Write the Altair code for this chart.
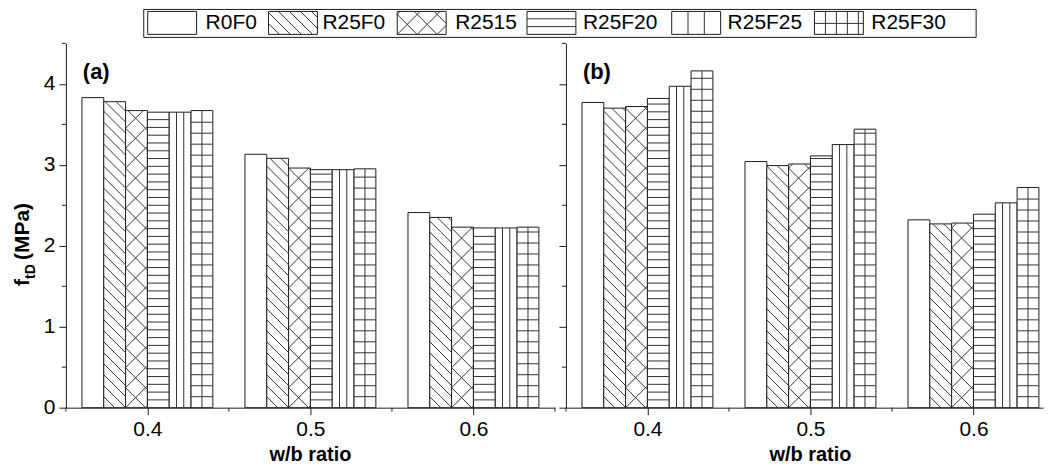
import altair as alt
import pandas as pd

# ---------------- data ----------------
series = ["R0F0", "R25F0", "R2515", "R25F20", "R25F25", "R25F30"]
wb_ratio = [0.4, 0.5, 0.6]

a_R0F0 = [3.83, 3.13, 2.41]
a_R25F0 = [3.78, 3.08, 2.35]
a_R2515 = [3.67, 2.96, 2.23]
a_R25F20 = [3.65, 2.94, 2.22]
a_R25F25 = [3.65, 2.94, 2.22]
a_R25F30 = [3.67, 2.95, 2.23]

b_R0F0 = [3.77, 3.04, 2.32]
b_R25F0 = [3.70, 2.99, 2.27]
b_R2515 = [3.72, 3.01, 2.28]
b_R25F20 = [3.82, 3.11, 2.39]
b_R25F25 = [3.97, 3.25, 2.53]
b_R25F30 = [4.16, 3.44, 2.72]

y_ticks = [0, 1, 2, 3, 4]
y_minor = [0.5, 1.5, 2.5, 3.5, 4.5]
x_ticks = [0.4, 0.5, 0.6]
x_minor = [0.35, 0.45, 0.55, 0.65]

# ---------------- styles / layout ----------------
patterns = ["none", "diag", "cross", "horiz", "vert", "grid"]
FONT = "Liberation Sans"
INK = "#1e1e1e"
HATCH = "#333333"
W_A, W_B, H = 490, 478, 365
X0, XSPAN, YMAX = 0.35, 0.30, 4.5
PXX = W_A / XSPAN
PXY = H / YMAX
GROUP_W = 0.0803
BW = GROUP_W / 6

# legend layout (pixels relative to panel (a) plot origin)
LEG_SW_X = [82, 203, 332, 462, 607, 750]
LEG_LB_X = [140, 257, 390, 518, 663, 807]
LEG_SW_W = 49
LEG_TOP, LEG_BOT = -32, -9
LEG_FRAME = (78, -34, 912, -6)


def hatch(kind, W, Hh):
    """line segments (u0, t0, u1, t1) in pixels, t measured upward."""
    segs = []
    if kind == "horiz":
        s = 7.8
        t = s
        while t < Hh - 1:
            segs.append((0, t, W, t))
            t += s
    if kind == "vert":
        s = W / 3.0
        u = s
        while u < W - 1.5:
            segs.append((u, 0, u, Hh))
            u += s
    if kind == "grid":
        s = 11.0
        t = s
        while t < Hh - 1:
            segs.append((0, t, W, t))
            t += s
        u = W / 2.0 if W < 30 else s
        while u < W - 1.5:
            segs.append((u, 0, u, Hh))
            u += s
    if kind in ("diag", "cross"):
        s = 11.0 if kind == "diag" else 20.0
        c = s
        while c < Hh + W:
            u0, u1 = max(0.0, c - Hh), min(W, c)
            if u1 - u0 > 0.5:
                segs.append((u0, c - u0, u1, c - u1))
            c += s
    if kind == "cross":
        s = 20.0
        k = -int(W // s)
        c = k * s
        while c < Hh:
            u0, u1 = max(0.0, -c), min(W, Hh - c)
            if u1 - u0 > 0.5:
                segs.append((u0, u0 + c, u1, u1 + c))
            c += s
    return segs


def build_frames(vals):
    bars, lines = [], []
    for i, w in enumerate(wb_ratio):
        for j, s in enumerate(series):
            v = vals[j][i]
            xl = w - GROUP_W / 2 + j * BW
            bars.append(dict(x=xl, x2=xl + BW, y=0.0, y2=v, s=s))
            for (u0, t0, u1, t1) in hatch(patterns[j], BW * PXX, v * PXY):
                lines.append(dict(x=xl + u0 / PXX, x2=xl + u1 / PXX,
                                  y=t0 / PXY, y2=t1 / PXY))
    return pd.DataFrame(bars), pd.DataFrame(lines)


PX = lambda f: alt.X(f, scale=None, axis=None)
PY = lambda f: alt.Y(f, scale=None, axis=None)


def legend_layers():
    rects, lines, labels = [], [], []
    for j, s in enumerate(series):
        x0 = LEG_SW_X[j]
        rects.append(dict(px=x0, px2=x0 + LEG_SW_W, py=LEG_TOP, py2=LEG_BOT))
        for (u0, t0, u1, t1) in hatch(patterns[j], LEG_SW_W, LEG_BOT - LEG_TOP):
            lines.append(dict(px=x0 + u0, px2=x0 + u1,
                              py=LEG_BOT - t0, py2=LEG_BOT - t1))
        labels.append(dict(px=LEG_LB_X[j], py=-14, t=s))
    fx0, fy0, fx1, fy1 = LEG_FRAME
    frame = pd.DataFrame([dict(px=fx0, px2=fx1, py=fy0, py2=fy1)])
    lyr = [
        alt.Chart(frame).mark_rect(filled=False, stroke=INK, strokeWidth=1).encode(
            x=PX("px:Q"), x2="px2:Q", y=PY("py:Q"), y2="py2:Q"),
        alt.Chart(pd.DataFrame(rects)).mark_rect(fill="white", stroke=INK, strokeWidth=1).encode(
            x=PX("px:Q"), x2="px2:Q", y=PY("py:Q"), y2="py2:Q"),
        alt.Chart(pd.DataFrame(lines)).mark_rule(color=HATCH, strokeWidth=1).encode(
            x=PX("px:Q"), x2="px2:Q", y=PY("py:Q"), y2="py2:Q"),
        alt.Chart(pd.DataFrame(labels)).mark_text(
            font=FONT, fontSize=21, align="left", baseline="alphabetic", color="#000").encode(
            x=PX("px:Q"), y=PY("py:Q"), text="t:N"),
        # invisible anchor defining the top-left corner of the drawing
        alt.Chart(pd.DataFrame([dict(px=-57, px2=-56, py=-34, py2=-33)])).mark_rect(opacity=0).encode(
            x=PX("px:Q"), x2="px2:Q", y=PY("py:Q"), y2="py2:Q"),
    ]
    # y-axis title with subscript
    tdf = pd.DataFrame([
        dict(px=-37, py=243, t="f", fs=21),
        dict(px=-31, py=236, t="tD", fs=14),
        dict(px=-37, py=217, t="(MPa)", fs=21),
    ])
    for _, r in tdf.iterrows():
        lyr.append(
            alt.Chart(pd.DataFrame([dict(px=r.px, py=r.py, t=r.t)])).mark_text(
                font=FONT, fontSize=int(r.fs), fontWeight="bold", angle=270,
                align="left", baseline="alphabetic", color="#000").encode(
                x=PX("px:Q"), y=PY("py:Q"), text="t:N"))
    return lyr


def panel(vals, width, tag, show_labels, extra=()):
    xmax = X0 + width / PXX
    bars_df, lines_df = build_frames(vals)
    xs = alt.Scale(domain=[X0, xmax], nice=False, zero=False)
    ys = alt.Scale(domain=[0, YMAX], nice=False)
    xaxis = alt.Axis(values=x_ticks, format=".1f", title=None, tickSize=7,
                     labelFontSize=21, labelPadding=4, grid=False, labelFont=FONT,
                     labelColor="#000", domainColor=INK, tickColor=INK)
    yaxis = alt.Axis(values=y_ticks, format="d", title=None, tickSize=7,
                     labelFontSize=21, labelPadding=4, grid=False, labelFont=FONT,
                     labels=show_labels, labelColor="#000", domainColor=INK, tickColor=INK)
    bars = alt.Chart(bars_df).mark_rect(fill="white", stroke=INK, strokeWidth=1).encode(
        x=alt.X("x:Q", scale=xs, axis=xaxis), x2="x2:Q",
        y=alt.Y("y2:Q", scale=ys, axis=yaxis), y2="y:Q")
    lines = alt.Chart(lines_df).mark_rule(color=HATCH, strokeWidth=1).encode(
        x=alt.X("x:Q", scale=xs, axis=xaxis), x2="x2:Q",
        y=alt.Y("y:Q", scale=ys, axis=yaxis), y2="y2:Q")
    ymin = alt.Chart(pd.DataFrame({"v": y_minor})).mark_rule(color=INK).encode(
        y=alt.Y("v:Q", scale=ys, axis=yaxis), x=alt.value(-4), x2=alt.value(0))
    xm = [v for v in x_minor if v <= xmax + 1e-9]
    xmin = alt.Chart(pd.DataFrame({"v": xm})).mark_rule(color=INK).encode(
        x=alt.X("v:Q", scale=xs, axis=xaxis), y=alt.value(H), y2=alt.value(H + 4))
    tag_t = alt.Chart(pd.DataFrame({"t": [tag]})).mark_text(
        font=FONT, fontSize=22, fontWeight="bold", align="left", baseline="alphabetic",
        color="#000").encode(text="t:N", x=alt.value(17), y=alt.value(36))
    xt = alt.Chart(pd.DataFrame({"t": ["w/b ratio"], "v": [0.5]})).mark_text(
        font=FONT, fontSize=20, fontWeight="bold", align="center", baseline="alphabetic",
        color="#000").encode(text="t:N", x=alt.X("v:Q", scale=xs, axis=xaxis),
                             y=alt.value(H + 53))
    return alt.layer(bars, lines, ymin, xmin, tag_t, xt, *extra).properties(
        width=width, height=H, view=alt.ViewBackground(stroke="white"))


vals_a = [a_R0F0, a_R25F0, a_R2515, a_R25F20, a_R25F25, a_R25F30]
vals_b = [b_R0F0, b_R25F0, b_R2515, b_R25F20, b_R25F25, b_R25F30]

pa = panel(vals_a, W_A, "(a)", True, legend_layers())
pb = panel(vals_b, W_B, "(b)", False)

chart = alt.hconcat(pa, pb, spacing=11).properties(
    bounds="flush", padding=0
).configure(
    font=FONT,
    view=alt.ViewConfig(stroke="white"),
)

chart.save("out.html", embed_options={"renderer": "svg", "actions": False})
